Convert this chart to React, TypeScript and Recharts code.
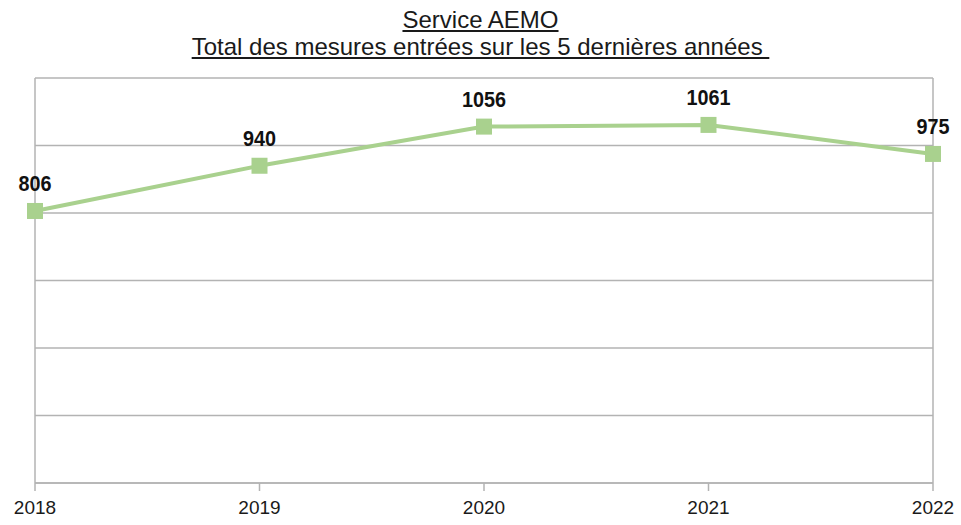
import { CartesianGrid, LabelList, Line, LineChart, ReferenceLine, XAxis, YAxis } from "recharts";

const years = ["2018", "2019", "2020", "2021", "2022"];
const totals = [806, 940, 1056, 1061, 975];
const yTicks = [0, 200, 400, 600, 800, 1000, 1200];

const data = years.map((year, i) => ({ year, total: totals[i] }));

const GREEN = "#a9d18e";
const GRID = "#b3b3b3";

const SquareDot = (props: any) => {
	const { cx, cy } = props;
	if (cx == null || cy == null) return null;
	return <rect x={cx - 8} y={cy - 8} width={16} height={16} fill={GREEN} />;
};

const ValueLabel = (props: any) => {
	const { x, y, value } = props;
	return (
		<text
			transform={`translate(${x},${y - 20}) scale(0.9,1)`}
			textAnchor="middle"
			fontFamily="'Liberation Sans', Arial, sans-serif"
			fontWeight="bold"
			fontSize={22}
			fill="#111"
		>
			{value}
		</text>
	);
};

export default function App() {
	return (
		<div
			style={{
				position: "relative",
				width: 961,
				height: 525,
				background: "#fff",
				fontFamily: "'Liberation Sans', Arial, sans-serif",
			}}
		>
			<style>{"body{margin:0}"}</style>
			<div
				style={{
					position: "absolute",
					left: 0,
					top: 6,
					width: 961,
					textAlign: "center",
					fontSize: 24,
					lineHeight: "27px",
					color: "#1a1a1a",
					textDecoration: "underline",
				}}
			>
				<div>Service AEMO</div>
				<div>Total des mesures entrées sur les 5 dernières années&nbsp;</div>
			</div>
			<LineChart
				width={961}
				height={525}
				data={data}
				margin={{ top: 78, right: 28, bottom: 12, left: 35 }}
			>
				<CartesianGrid yAxisId="left" stroke={GRID} strokeWidth={1.5} vertical={false} />
				<XAxis
					dataKey="year"
					axisLine={{ stroke: GRID, strokeWidth: 1.5 }}
					tickLine={{ stroke: GRID, strokeWidth: 1.5 }}
					tickSize={8}
					tickMargin={10}
					height={30}
					interval={0}
					tick={{ fill: "#1a1a1a", fontSize: 19 }}
				/>
				<YAxis yAxisId="left" domain={[0, 1200]} ticks={yTicks} width={0} hide />
				<ReferenceLine yAxisId="left" x={years[0]} stroke={GRID} strokeWidth={1.5} />
				<ReferenceLine
					yAxisId="left"
					x={years[years.length - 1]}
					stroke={GRID}
					strokeWidth={1.5}
				/>
				<Line
					yAxisId="left"
					dataKey="total"
					stroke={GREEN}
					strokeWidth={4}
					dot={<SquareDot />}
					activeDot={false}
					isAnimationActive={false}
				>
					<LabelList dataKey="total" content={<ValueLabel />} />
				</Line>
			</LineChart>
		</div>
	);
}
